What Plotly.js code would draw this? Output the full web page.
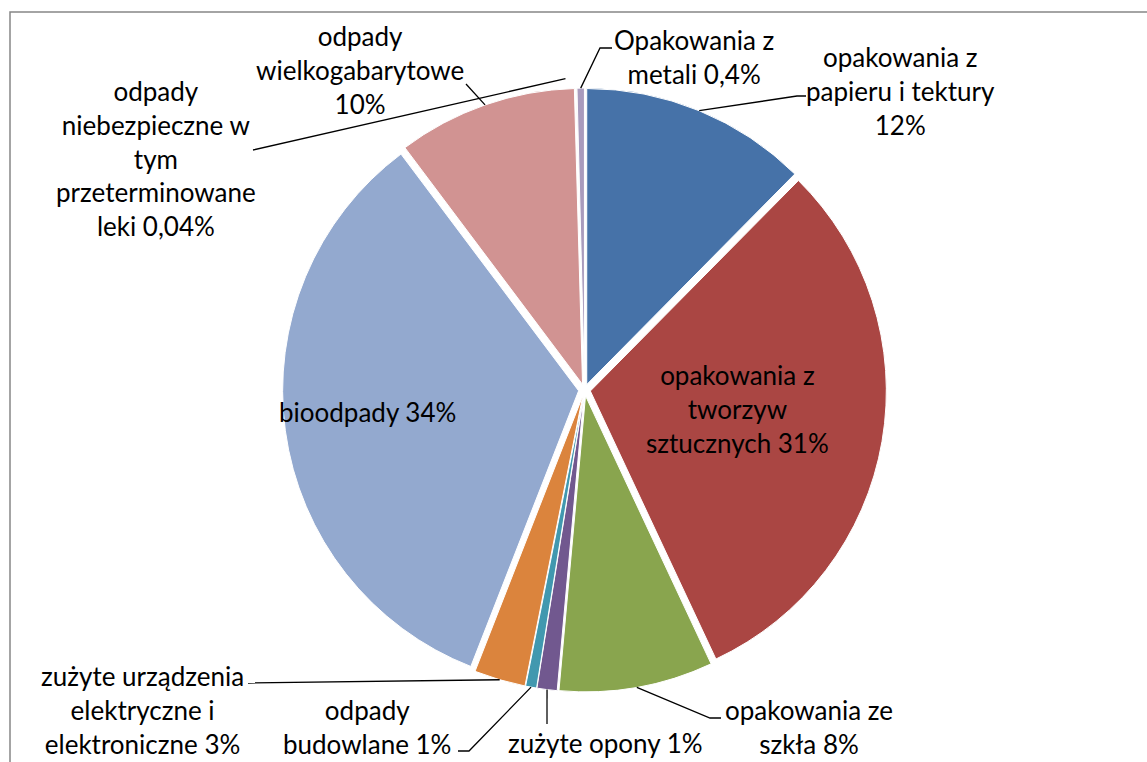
<!DOCTYPE html>
<html>
<head>
<meta charset="utf-8">
<script src="https://cdn.plot.ly/plotly-3.0.1.min.js"></script>
<style>
  html, body { margin: 0; padding: 0; background: #ffffff; }
  #chart { width: 1147px; height: 762px; }
</style>
</head>
<body>
<div id="chart"></div>
<script>
// ---- data ----
const categories = [
  "opakowania z papieru i tektury",
  "opakowania z tworzyw sztucznych",
  "opakowania ze szkła",
  "zużyte opony",
  "odpady budowlane",
  "zużyte urządzenia elektryczne i elektroniczne",
  "bioodpady",
  "odpady wielkogabarytowe",
  "odpady niebezpieczne w tym przeterminowane leki",
  "Opakowania z metali"
];
const values = [12.4, 30.6, 8.4, 1.1, 0.6, 2.8, 33.8, 9.8, 0.04, 0.4];
const pctText = ["12%", "31%", "8%", "1%", "1%", "3%", "34%", "10%", "0,04%", "0,4%"];
const labelLines = [
  "opakowania z<br>papieru i tektury<br>",
  "opakowania z<br>tworzyw<br>sztucznych ",
  "opakowania ze<br>szkła ",
  "zużyte opony ",
  "odpady<br>budowlane ",
  "zużyte urządzenia<br>elektryczne i<br>elektroniczne ",
  "bioodpady ",
  "odpady<br>wielkogabarytowe<br>",
  "odpady<br>niebezpieczne w<br>tym<br>przeterminowane<br>leki ",
  "Opakowania z<br>metali "
];
const colors = ["#4672A8", "#AA4643", "#89A54E", "#71588F", "#4198AF",
                "#DB843D", "#93A9CF", "#D19392", "#B9CD96", "#A99BBD"];

// ---- layout helpers ----
const W = 1147, H = 762;
const px = x => x / W;
const py = y => 1 - y / H;
const cx = 584.5, cy = 390, R = 296, PULL = 0.02;
const RO = R * (1 + PULL);

// label placement (pixel centres) and leader-line bend points
const labelPos = [
  [900, 91], [737, 409], [809, 727], [605, 743], [367, 727],
  [142, 710], [367, 412], [360, 70], [156, 159], [694, 57]
];
const leaderVia = [
  [[797, 96], [806, 96]],
  null,
  [[710, 718], [721, 718]],
  [[547, 724]],
  [[469, 751], [458, 751]],
  [[248, 683]],
  null,
  [[466, 84]],
  [[253, 150]],
  [[600, 48], [612, 48]]
];
const leaderExtra = [0, 0, 0, 0, 0, 0, 0, 0, 12, 0];
const leaderGap = [0, 0, 0, 0, 0, 0, 0, 0, 11, 0];

const total = values.reduce((a, b) => a + b, 0);
let cum = 0;
const shapes = [];
const annotations = [];
values.forEach((v, i) => {
  const mid = (cum + v / 2) / total * 2 * Math.PI;
  cum += v;
  const rr = RO + leaderExtra[i];
  let sx = cx + rr * Math.sin(mid), sy = cy - rr * Math.cos(mid);
  const via = leaderVia[i];
  if (via) {
    if (leaderGap[i]) {
      const dx = via[0][0] - sx, dy = via[0][1] - sy, d = Math.hypot(dx, dy);
      sx += dx / d * leaderGap[i]; sy += dy / d * leaderGap[i];
    }
    let path = `M ${px(sx)},${py(sy)}`;
    via.forEach(p => { path += ` L ${px(p[0])},${py(p[1])}`; });
    shapes.push({
      type: "path", xref: "paper", yref: "paper", path: path,
      line: { color: "#000000", width: 1.3 }
    });
  }
  annotations.push({
    xref: "paper", yref: "paper",
    x: px(labelPos[i][0]), y: py(labelPos[i][1]),
    xanchor: "center", yanchor: "middle", align: "center",
    text: labelLines[i] + pctText[i],
    showarrow: false,
    font: { family: "Lato, 'Open Sans', sans-serif", size: 26, color: "#000000" }
  });
});

// chart frame
shapes.push({
  type: "rect", xref: "paper", yref: "paper",
  x0: px(10), x1: px(1200), y0: py(12), y1: py(800),
  line: { color: "#868686", width: 1.5 }, fillcolor: "rgba(0,0,0,0)", layer: "below"
});

const trace = {
  type: "pie",
  labels: categories,
  values: values,
  sort: false,
  direction: "clockwise",
  rotation: 0,
  pull: values.map(() => PULL),
  marker: { colors: colors, line: { color: "#ffffff", width: 1 } },
  textinfo: "none",
  hoverinfo: "label+percent",
  showlegend: false,
  domain: {
    x: [(cx - RO) / W, (cx + RO) / W],
    y: [1 - (cy + RO) / H, 1 - (cy - RO) / H]
  }
};

Plotly.newPlot("chart", [trace], {
  width: W, height: H,
  margin: { l: 0, r: 0, t: 0, b: 0 },
  paper_bgcolor: "#ffffff",
  showlegend: false,
  shapes: shapes,
  annotations: annotations
}, { displayModeBar: false, staticPlot: true });
</script>
</body>
</html>
